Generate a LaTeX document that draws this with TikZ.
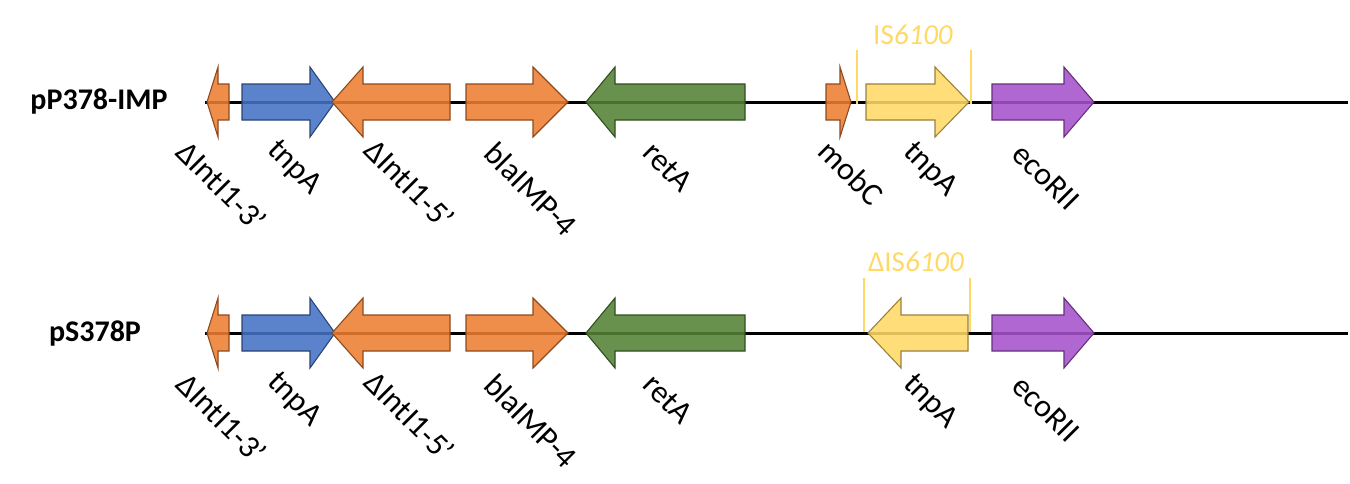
\documentclass[tikz,border=0pt]{standalone}
\usepackage{fontspec}
\setmainfont{Carlito}
\definecolor{gorange}{HTML}{ED7D31}
\definecolor{gblue}{HTML}{4472C4}
\definecolor{ggreen}{HTML}{548235}
\definecolor{gyellow}{HTML}{FFD966}
\definecolor{gpurple}{HTML}{A652CC}
\newcommand\rgene[5]{%
  \draw[genebox,fill=#5,draw=#5!60!black] (#1,#4-18) -- (#2,#4-18) -- (#2,#4-35) -- (#3,#4) -- (#2,#4+35) -- (#2,#4+18) -- (#1,#4+18) -- cycle;}
\newcommand\lgene[5]{%
  \draw[genebox,fill=#5,draw=#5!60!black] (#1,#4) -- (#2,#4-35) -- (#2,#4-18) -- (#3,#4-18) -- (#3,#4+18) -- (#2,#4+18) -- (#2,#4+35) -- cycle;}
\begin{document}
\begin{tikzpicture}[x=1pt,y=-1pt,
  genebox/.style={line width=1.1pt,fill opacity=0.88},
  backbone/.style={line width=3pt,black},
  glabel/.style={font=\fontsize{32}{38}\selectfont,rotate=-45,inner sep=0pt},
  title/.style={font=\fontsize{30}{36}\selectfont\bfseries,inner sep=0pt},
  isline/.style={gyellow,line width=1.4pt},
  islabel/.style={gyellow,font=\fontsize{29}{34}\selectfont,inner sep=0pt}]
\useasboundingbox (0,0) rectangle (1350,483);
% ---------- row 1 ----------
\node[title] (t1) at (99,101) {pP378-IMP};
\coordinate (a1) at (205,102);
\coordinate (b1) at (1348,102);
\draw[backbone] (a1) -- (b1);
\lgene{207}{218}{229}{102}{gorange}
\rgene{242}{310}{335}{102}{gblue}
\lgene{332}{363}{450}{102}{gorange}
\rgene{466}{533}{568}{102}{gorange}
\lgene{586}{615}{745}{102}{ggreen}
\rgene{826}{840}{851}{102}{gorange}
\coordinate (i1a) at (857,50); \coordinate (i1b) at (857,104);
\coordinate (i1c) at (971,50); \coordinate (i1d) at (971,104);
\draw[isline] (i1a) -- (i1b);
\draw[isline] (i1c) -- (i1d);
\rgene{866}{935}{969}{102}{gyellow}
\rgene{992}{1064}{1094}{102}{gpurple}
\node[islabel] (is1) at (913,35) {IS\textit{6100}};
\node[glabel] (l11) at (222,186) {ΔIntI1-3’};
\node[glabel] (l12) at (294,168) {tnpA};
\node[glabel] (l13) at (410,184) {ΔIntI1-5’};
\node[glabel] (l14) at (531,189) {blaIMP-4};
\node[glabel] (l15) at (668,167) {retA};
\node[glabel] (l16) at (851,173) {mobC};
\node[glabel] (l17) at (930,170) {tnpA};
\node[glabel] (l18) at (1046,177) {ecoRII};
% ---------- row 2 ----------
\node[title] (t2) at (95,333) {pS378P};
\coordinate (a2) at (205,333);
\coordinate (b2) at (1348,333);
\draw[backbone] (a2) -- (b2);
\lgene{207}{218}{229}{333}{gorange}
\rgene{242}{310}{335}{333}{gblue}
\lgene{332}{363}{450}{333}{gorange}
\rgene{466}{533}{568}{333}{gorange}
\lgene{586}{615}{745}{333}{ggreen}
\coordinate (i2a) at (864,278); \coordinate (i2b) at (864,332);
\coordinate (i2c) at (970,278); \coordinate (i2d) at (970,332);
\draw[isline] (i2a) -- (i2b);
\draw[isline] (i2c) -- (i2d);
\lgene{868}{901}{968}{333}{gyellow}
\rgene{992}{1064}{1094}{333}{gpurple}
\node[islabel] (is2) at (916,262) {ΔIS\textit{6100}};
\node[glabel] (l21) at (222,418) {ΔIntI1-3’};
\node[glabel] (l22) at (294,400) {tnpA};
\node[glabel] (l23) at (410,416) {ΔIntI1-5’};
\node[glabel] (l24) at (531,421) {blaIMP-4};
\node[glabel] (l25) at (668,399) {retA};
\node[glabel] (l27) at (930,402) {tnpA};
\node[glabel] (l28) at (1046,409) {ecoRII};
\end{tikzpicture}
\end{document}
